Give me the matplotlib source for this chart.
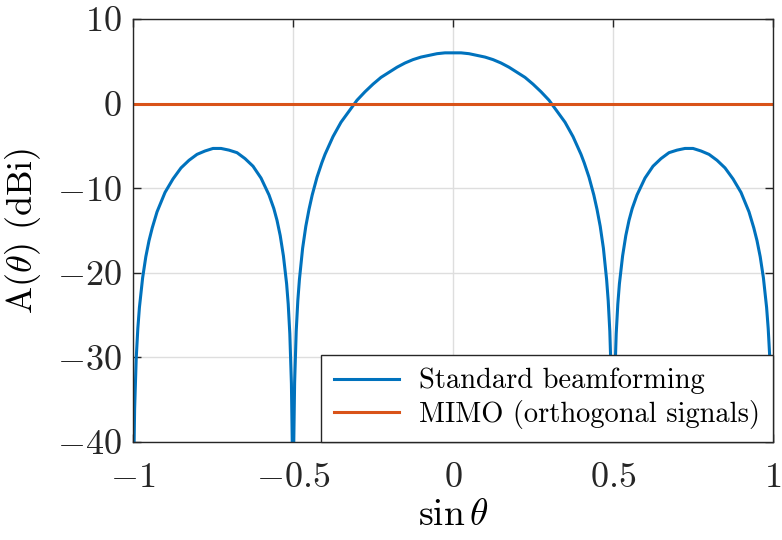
import numpy as np
import matplotlib
matplotlib.use("Agg")
import matplotlib.pyplot as plt

plt.rcParams['font.family'] = 'serif'
plt.rcParams['font.serif'] = ['cmr10', 'DejaVu Serif']
plt.rcParams['mathtext.fontset'] = 'cm'
plt.rcParams['axes.formatter.use_mathtext'] = True
plt.rcParams['axes.unicode_minus'] = True

# sin(theta) samples and gain (dBi); nulls drop below the axis
sin_theta = [-1.0, -0.998, -0.995, -0.99, -0.985, -0.98, -0.97, -0.96, -0.95, -0.94,
             -0.925, -0.9, -0.875, -0.85, -0.825, -0.8, -0.775, -0.75, -0.725, -0.7,
             -0.675, -0.65, -0.625, -0.6, -0.575, -0.56, -0.55, -0.54, -0.53, -0.52,
             -0.515, -0.51, -0.505, -0.502, -0.5, -0.498, -0.495, -0.49, -0.485, -0.48,
             -0.47, -0.46, -0.45, -0.44, -0.425, -0.41, -0.4, -0.375, -0.35, -0.325,
             -0.3, -0.275, -0.25, -0.225, -0.2, -0.175, -0.15, -0.125, -0.1, -0.075,
             -0.05, -0.025, 0.0,
             0.025, 0.05, 0.075, 0.1, 0.125, 0.15, 0.175, 0.2, 0.225, 0.25,
             0.275, 0.3, 0.325, 0.35, 0.375, 0.4, 0.41, 0.425, 0.44, 0.45,
             0.46, 0.47, 0.48, 0.485, 0.49, 0.495, 0.498, 0.5, 0.502, 0.505,
             0.51, 0.515, 0.52, 0.53, 0.54, 0.55, 0.56, 0.575, 0.6, 0.625,
             0.65, 0.675, 0.7, 0.725, 0.75, 0.775, 0.8, 0.825, 0.85, 0.875,
             0.9, 0.925, 0.94, 0.95, 0.96, 0.97, 0.98, 0.985, 0.99, 0.995,
             0.998, 1.0]
beamforming = [-60, -44.0, -36.1, -30.1, -26.6, -24.1, -20.6, -18.1, -16.2, -14.7,
               -12.8, -10.5, -8.9, -7.6, -6.7, -6.0, -5.6, -5.3, -5.3, -5.5,
               -5.8, -6.5, -7.4, -8.8, -10.8, -12.4, -13.8, -15.6, -18.0, -21.3,
               -23.7, -27.2, -33.1, -41.1, -60, -41.0, -33.0, -26.9, -23.3, -20.8,
               -17.1, -14.5, -12.5, -10.8, -8.7, -7.0, -6.0, -3.9, -2.2, -0.9,
               0.4, 1.4, 2.3, 3.1, 3.7, 4.3, 4.8, 5.2, 5.5, 5.7,
               5.9, 6.0, 6.0,
               6.0, 5.9, 5.7, 5.5, 5.2, 4.8, 4.3, 3.7, 3.1, 2.3,
               1.4, 0.4, -0.9, -2.2, -3.9, -6.0, -7.0, -8.7, -10.8, -12.5,
               -14.5, -17.1, -20.8, -23.3, -26.9, -33.0, -41.0, -60, -41.1, -33.1,
               -27.2, -23.7, -21.3, -18.0, -15.6, -13.8, -12.4, -10.8, -8.8, -7.4,
               -6.5, -5.8, -5.5, -5.3, -5.3, -5.6, -6.0, -6.7, -7.6, -8.9,
               -10.5, -12.8, -14.7, -16.2, -18.1, -20.6, -24.1, -26.6, -30.1, -36.1,
               -44.0, -60]
mimo_x = [-1.0, 1.0]
mimo = [0.0, 0.0]

fig = plt.figure(figsize=(7.82, 5.40), dpi=100)
ax = fig.add_axes([0.1701, 0.1815, 0.8184, 0.7833])

ax.plot(sin_theta, beamforming, color='#0072BD', lw=2.2, label='Standard beamforming')
ax.plot(mimo_x, mimo, color='#D95319', lw=2.2, label='MIMO (orthogonal signals)')

ax.set_xlim(-1, 1)
ax.set_ylim(-40, 10)
ax.set_xticks([-1, -0.5, 0, 0.5, 1])
ax.set_xticklabels([r'$-1$', r'$-0.5$', r'$0$', r'$0.5$', r'$1$'])
ax.set_yticks([-40, -30, -20, -10, 0, 10])
ax.set_yticklabels([r'$-40$', r'$-30$', r'$-20$', r'$-10$', r'$0$', r'$10$'])
ax.tick_params(direction='in', top=True, right=True, labelsize=26,
               length=6, width=1, colors='#262626', pad=8)
ax.tick_params(axis='x', pad=15)
ax.grid(True, color='#dedede', lw=1)
for s in ax.spines.values():
    s.set_color('#262626')
    s.set_linewidth(1)

ax.set_xlabel(r'$\sin\theta$', fontsize=27, labelpad=3)
ax.set_ylabel(r'A($\theta$) (dBi)', fontsize=26, labelpad=10)

leg = ax.legend(loc='lower right', borderaxespad=0, fontsize=20.5, fancybox=False,
                framealpha=1, edgecolor='#262626', handlelength=2.3,
                handletextpad=0.7, borderpad=0.45, labelspacing=0.2)
leg.get_frame().set_linewidth(1)

fig.savefig('out.png', dpi=100)
